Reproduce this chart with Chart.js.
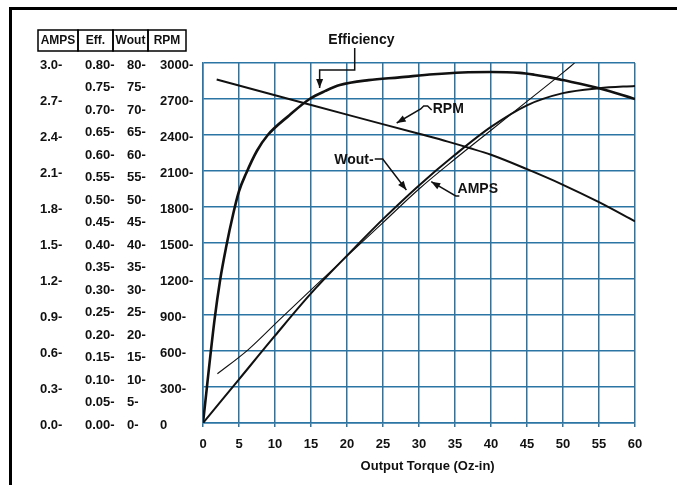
<!DOCTYPE html>
<html>
<head>
<meta charset="utf-8">
<title>Motor performance curves</title>
<script src="https://cdn.jsdelivr.net/npm/chart.js@4.4.1/dist/chart.umd.min.js"></script>
<style>
  html, body { margin: 0; padding: 0; background: #fff; }
  canvas { display: block; }
</style>
</head>
<body>
<canvas id="perf" width="677" height="485"></canvas>
<script>
// values (x = output torque, oz-in)
const effTorque = [0, 1.6, 2.4, 3.2, 4.2, 5, 6, 7.5, 9, 12, 14.8, 17, 19, 23, 27.3, 32, 36, 40, 44, 46, 48.2, 50, 55, 60];
const effValues = [0, 0.229, 0.32, 0.39, 0.465, 0.515, 0.555, 0.605, 0.64, 0.684, 0.72, 0.738, 0.751, 0.762, 0.768, 0.775, 0.779, 0.78, 0.778, 0.774, 0.768, 0.762, 0.744, 0.72];

const rpmTorque = [1.9, 10, 20, 30, 34, 37, 40, 45, 50, 55, 60];
const rpmValues = [2862, 2732, 2570, 2410, 2345, 2292, 2235, 2115, 1985, 1840, 1680];

const woutTorque = [0, 5, 10, 15, 20, 25, 30, 35, 40, 45, 50, 55, 60];
const woutValues = [0, 9.7, 19.4, 28.8, 37.2, 45.3, 52.8, 59.6, 65.8, 70.6, 73.3, 74.4, 74.9];

const ampsTorque = [2, 6.25, 10.6, 15, 20, 25, 30, 35, 40, 45, 50, 51.6];
const ampsValues = [0.41, 0.61, 0.86, 1.11, 1.39, 1.67, 1.95, 2.2, 2.44, 2.68, 2.92, 3.0];

const headerLabels = ['AMPS', 'Eff.', 'Wout', 'RPM'];
const headerWidths = [40, 35, 35, 38];
const xTitle = 'Output Torque (Oz-in)';

// callouts, positioned in (torque, rpm) units
const notes = [
  { label: 'Efficiency', at: [22.0, 3192], align: 'center',
    path: [[21.07, 3125], [21.07, 2942], [16.2, 2942], [16.2, 2792]] },
  { label: 'RPM', at: [31.9, 2617], align: 'left',
    path: [[31.76, 2608], [31.2, 2642], [30.65, 2642], [30.24, 2617], [26.9, 2500]] },
  { label: 'Wout-', at: [23.7, 2192], align: 'right',
    path: [[23.85, 2200], [24.96, 2200], [28.25, 1942]] },
  { label: 'AMPS', at: [35.35, 1950], align: 'left',
    path: [[35.6, 1892], [35.1, 1892], [31.7, 2011]] }
];

const FONT = '"Liberation Sans", Arial, Helvetica, sans-serif';
const GRID = '#2a75a3';
const INK = '#111';
const tickFont = { family: FONT, size: 13, weight: 'bold' };

const toPoints = (xs, ys) => xs.map((x, i) => ({ x: x, y: ys[i] }));

const frameAndNotes = {
  id: 'frameAndNotes',
  beforeDraw(chart) {
    const c = chart.ctx;
    c.save();
    c.fillStyle = '#fff';
    c.fillRect(0, 0, chart.width, chart.height);
    // page frame (top + left edge)
    c.fillStyle = '#000';
    c.fillRect(9, 7, chart.width - 9, 3);
    c.fillRect(9, 7, 3, chart.height - 7);
    // axis headers
    let x = 38;
    c.lineWidth = 1.5;
    c.strokeStyle = '#000';
    c.fillStyle = INK;
    c.font = 'bold 12px ' + FONT;
    c.textAlign = 'center';
    c.textBaseline = 'middle';
    headerLabels.forEach((h, i) => {
      const w = headerWidths[i];
      c.strokeRect(x, 30, w, 21);
      c.fillText(h, x + w / 2, 41);
      x += w;
    });
    c.restore();
  },
  afterDatasetsDraw(chart) {
    const c = chart.ctx;
    const xs = chart.scales.x, ys = chart.scales.yRpm;
    const px = v => xs.getPixelForValue(v);
    const py = v => ys.getPixelForValue(v);
    c.save();
    c.strokeStyle = INK;
    c.fillStyle = INK;
    c.lineWidth = 1.5;
    c.font = 'bold 14px ' + FONT;
    c.textBaseline = 'middle';
    notes.forEach(n => {
      c.textAlign = n.align;
      c.fillText(n.label, px(n.at[0]), py(n.at[1]));
      const pts = n.path.map(p => [px(p[0]), py(p[1])]);
      c.beginPath();
      pts.forEach((p, i) => i ? c.lineTo(p[0], p[1]) : c.moveTo(p[0], p[1]));
      c.stroke();
      // arrow head at the last point
      const [x1, y1] = pts[pts.length - 2];
      const [x2, y2] = pts[pts.length - 1];
      const a = Math.atan2(y2 - y1, x2 - x1);
      const L = 9, W = 3.5;
      c.beginPath();
      c.moveTo(x2, y2);
      c.lineTo(x2 - L * Math.cos(a) + W * Math.sin(a), y2 - L * Math.sin(a) - W * Math.cos(a));
      c.lineTo(x2 - L * Math.cos(a) - W * Math.sin(a), y2 - L * Math.sin(a) + W * Math.cos(a));
      c.closePath();
      c.fill();
    });
    // x axis title (sits a bit right of centre on the original)
    c.font = 'bold 13px ' + FONT;
    c.textAlign = 'center';
    c.fillText(xTitle, px(31.2), chart.chartArea.bottom + 43);
    c.restore();
  }
};

const lineStyle = {
  borderColor: INK,
  pointRadius: 0,
  fill: false,
  cubicInterpolationMode: 'monotone'
};

// left-aligned label columns, like the original sheet
const sideAxis = (weight, width, max, step, fmt) => ({
  position: 'left', weight: weight, min: 0, max: max,
  afterFit: s => { s.width = width; },
  ticks: { stepSize: step, autoSkip: false, crossAlign: 'far', labelOffset: 2, color: INK, font: tickFont, callback: fmt },
  grid: { display: false }, border: { display: false }
});

new Chart(document.getElementById('perf'), {
  type: 'line',
  data: {
    datasets: [
      Object.assign({ label: 'Efficiency', data: toPoints(effTorque, effValues), yAxisID: 'yEff', borderWidth: 2.6 }, lineStyle),
      Object.assign({ label: 'RPM', data: toPoints(rpmTorque, rpmValues), yAxisID: 'yRpm', borderWidth: 2 }, lineStyle),
      Object.assign({ label: 'Wout', data: toPoints(woutTorque, woutValues), yAxisID: 'yWout', borderWidth: 2 }, lineStyle),
      Object.assign({ label: 'AMPS', data: toPoints(ampsTorque, ampsValues), yAxisID: 'yAmps', borderWidth: 1.1 }, lineStyle)
    ]
  },
  options: {
    responsive: false,
    animation: false,
    layout: { padding: { left: 40, top: 63, right: 42, bottom: 7 } },
    plugins: { legend: { display: false }, tooltip: { enabled: false } },
    scales: {
      x: {
        type: 'linear', min: 0, max: 60,
        afterFit: s => { s.height = 55; },
        ticks: { stepSize: 5, padding: 10, maxRotation: 0, color: INK, font: tickFont },
        grid: { color: GRID, lineWidth: 1.5, tickLength: 4, tickColor: GRID },
        border: { color: GRID, width: 1.5 }
      },
      yRpm: {
        position: 'left', weight: 0, min: 0, max: 3000,
        afterFit: s => { s.width = 43; },
        ticks: { stepSize: 300, crossAlign: 'far', labelOffset: 2, color: INK, font: tickFont,
                 callback: v => v === 0 ? '0' : v + '-' },
        grid: { color: GRID, lineWidth: 1.5, drawTicks: false },
        border: { color: GRID, width: 1.5 }
      },
      yWout: sideAxis(1, 33, 80, 5, v => v + '-'),
      yEff: sideAxis(2, 42, 0.8, 0.05, v => v.toFixed(2) + '-'),
      yAmps: sideAxis(3, 45, 3.0, 0.3, v => v.toFixed(1) + '-')
    }
  },
  plugins: [frameAndNotes]
});
</script>
</body>
</html>
